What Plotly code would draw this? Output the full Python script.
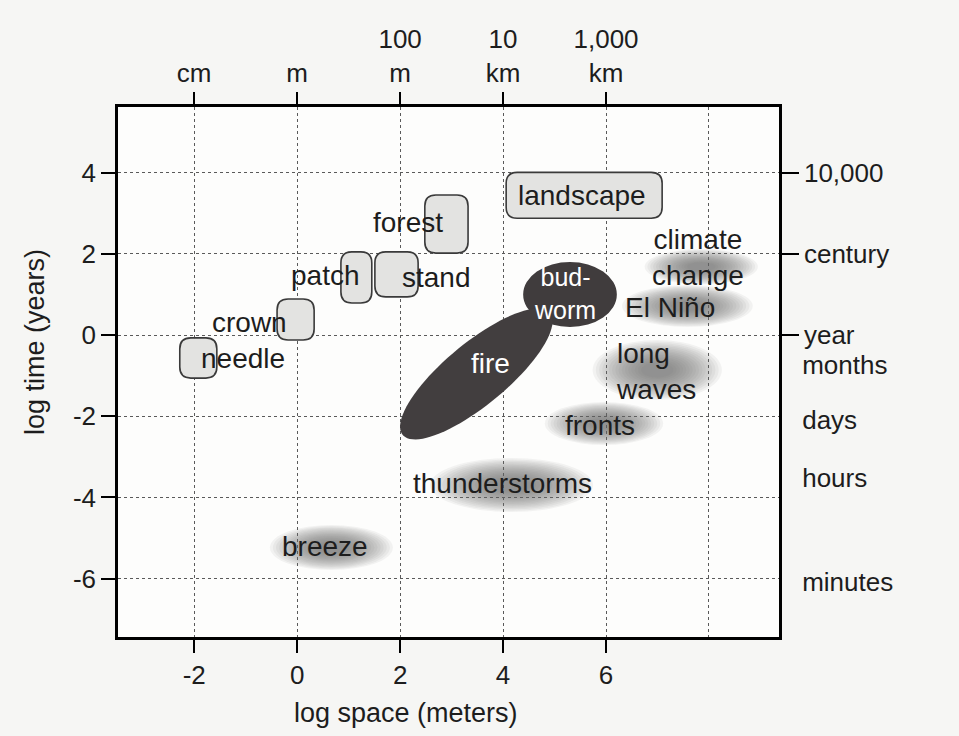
import numpy as np
import plotly.graph_objects as go

# ---------------- data ----------------
X_RANGE = [-3.48, 9.36]
Y_RANGE = [-7.44, 5.62]

x_tick_vals = [-2, 0, 2, 4, 6]
x_tick_labels = ["-2", "0", "2", "4", "6"]
x_extra_grid = [8]
y_tick_vals = [-6, -4, -2, 0, 2, 4]
y_tick_labels = ["-6", "-4", "-2", "0", "2", "4"]
top_tick_labels = ["cm", "m", "100<br>m", "10<br>km", "1,000<br>km"]
right_tick_vals = [4, 2, 0]
right_tick_labels = ["10,000", "century", "year"]
right_text_vals = [-0.74, -2.09, -3.52, -6.08]
right_text_labels = ["months", "days", "hours", "minutes"]

# biological levels (rounded boxes)
box_labels = ["landscape", "forest", "stand", "patch", "crown", "needle"]
box_x0 = [4.06, 2.48, 1.51, 0.85, -0.39, -2.28]
box_x1 = [7.09, 3.32, 2.35, 1.45, 0.33, -1.56]
box_y0 = [2.88, 2.02, 0.94, 0.79, -0.12, -1.06]
box_y1 = [4.01, 3.45, 2.05, 2.05, 0.89, -0.07]
box_text_x = [5.53, 2.15, 2.71, 0.56, -0.92, -1.05]
box_text_y = [3.45, 2.78, 1.43, 1.48, 0.32, -0.57]

# atmospheric phenomena (soft grey ellipses)
atm_labels = ["climate<br>change", "El Niño", "long<br>waves", "fronts", "thunderstorms", "breeze"]
atm_x0 = [6.75, 6.31, 5.74, 4.81, 2.58, -0.53]
atm_x1 = [8.95, 8.85, 8.25, 7.11, 5.75, 1.86]
atm_y0 = [1.25, 0.20, -1.60, -2.71, -4.36, -5.79]
atm_y1 = [2.12, 1.23, -0.12, -1.65, -3.03, -4.68]
atm_text_x = [7.78, 7.24, 6.15, 5.88, 3.98, 0.54]
atm_text_y = [1.92, 0.67, -0.89, -2.22, -3.65, -5.22]
atm_text_anchor = ["center", "center", "left", "center", "center", "center"]

# disturbances (dark ellipses)
budworm_x = [4.39, 6.21]
budworm_y = [0.20, 1.80]
budworm_text = (5.20, 1.03)
fire_x = [2.05, 4.91]      # ends of long axis
fire_y = [-2.46, 0.54]
fire_text = (3.76, -0.69)

# ---------------- layout constants ----------------
W, H = 959, 736
ML, MR, MT, MB = 118, 180, 107, 99
PW, PH = W - ML - MR, H - MT - MB
SX = PW / (X_RANGE[1] - X_RANGE[0])   # px per x unit
SY = PH / (Y_RANGE[1] - Y_RANGE[0])   # px per y unit

FONT = "Liberation Sans, Arial, Helvetica, sans-serif"
TXT = "#1d1d1d"
GRID = "#5a5a5a"
LABEL_SIZE = 28
TICK_SIZE = 26

shapes = []
annotations = []

# soft grey ellipses (layered to mimic an airbrushed gradient)
N_LAYERS = 16
for i in range(len(atm_labels)):
    cx = (atm_x0[i] + atm_x1[i]) / 2
    cy = (atm_y0[i] + atm_y1[i]) / 2
    rx = (atm_x1[i] - atm_x0[i]) / 2
    ry = (atm_y1[i] - atm_y0[i]) / 2
    for k in range(N_LAYERS):
        s = 1.0 - k * 0.05
        shapes.append(dict(type="circle", xref="x", yref="y", layer="between",
                           x0=cx - rx * s, x1=cx + rx * s, y0=cy - ry * s, y1=cy + ry * s,
                           fillcolor="rgba(110,110,110,0.075)", line=dict(width=0)))
    annotations.append(dict(x=atm_text_x[i], y=atm_text_y[i], xref="x", yref="y",
                            text=atm_labels[i], showarrow=False,
                            xanchor=atm_text_anchor[i], align=atm_text_anchor[i],
                            font=dict(family=FONT, size=LABEL_SIZE, color=TXT)))

# rounded boxes
R = 11
for i in range(len(box_labels)):
    x0, x1, y0, y1 = box_x0[i], box_x1[i], box_y0[i], box_y1[i]
    rx, ry = R / SX, R / SY
    path = (f"M {x0+rx},{y0} L {x1-rx},{y0} Q {x1},{y0} {x1},{y0+ry} "
            f"L {x1},{y1-ry} Q {x1},{y1} {x1-rx},{y1} L {x0+rx},{y1} "
            f"Q {x0},{y1} {x0},{y1-ry} L {x0},{y0+ry} Q {x0},{y0} {x0+rx},{y0} Z")
    shapes.append(dict(type="path", xref="x", yref="y", layer="between", path=path,
                       fillcolor="#e3e3e1", line=dict(color="#3a3a3a", width=1.6)))
    annotations.append(dict(x=box_text_x[i], y=box_text_y[i], xref="x", yref="y",
                            text=box_labels[i], showarrow=False,
                            font=dict(family=FONT, size=LABEL_SIZE, color=TXT)))

# budworm
shapes.append(dict(type="circle", xref="x", yref="y", layer="between",
                   x0=budworm_x[0], x1=budworm_x[1], y0=budworm_y[0], y1=budworm_y[1],
                   fillcolor="#403c3d", line=dict(width=0)))
annotations.append(dict(x=budworm_text[0], y=budworm_text[1], xref="x", yref="y",
                        text="bud-<br>worm", showarrow=False,
                        font=dict(family=FONT, size=25, color="white")))

# fire (rotated ellipse built in pixel space, mapped back to data)
FIRE_HALF_WIDTH_PX = 31
px0, py0 = fire_x[0] * SX, fire_y[0] * SY
px1, py1 = fire_x[1] * SX, fire_y[1] * SY
cxp, cyp = (px0 + px1) / 2, (py0 + py1) / 2
a = np.hypot(px1 - px0, py1 - py0) / 2
ang = np.arctan2(py1 - py0, px1 - px0)
t = np.linspace(0, 2 * np.pi, 90)
ex = cxp + a * np.cos(t) * np.cos(ang) - FIRE_HALF_WIDTH_PX * np.sin(t) * np.sin(ang)
ey = cyp + a * np.cos(t) * np.sin(ang) + FIRE_HALF_WIDTH_PX * np.sin(t) * np.cos(ang)
pts = [f"{x / SX:.4f},{y / SY:.4f}" for x, y in zip(ex, ey)]
shapes.append(dict(type="path", xref="x", yref="y", layer="between",
                   path="M " + " L ".join(pts) + " Z",
                   fillcolor="#423e3f", line=dict(width=0)))
annotations.append(dict(x=fire_text[0], y=fire_text[1], xref="x", yref="y",
                        text="fire", showarrow=False,
                        font=dict(family=FONT, size=LABEL_SIZE, color="white")))

# axis titles
annotations.append(dict(x=(35 - ML) / PW, y=(MT + PH - 342) / PH, xref="paper", yref="paper",
                        xanchor="center", yanchor="middle",
                        text="log time (years)", textangle=-90, showarrow=False,
                        font=dict(family=FONT, size=27, color=TXT)))
annotations.append(dict(x=(406 - ML) / PW, y=(MT + PH - 713) / PH, xref="paper", yref="paper",
                        xanchor="center", yanchor="middle",
                        text="log space (meters)", showarrow=False,
                        font=dict(family=FONT, size=27, color=TXT)))

fig = go.Figure()
# dummy traces so every axis is drawn
for xa, ya in [("x", "y"), ("x2", "y"), ("x", "y2"), ("x", "y3")]:
    fig.add_trace(go.Scatter(x=[None], y=[None], xaxis=xa, yaxis=ya,
                             showlegend=False, hoverinfo="skip"))

axis_common = dict(showline=True, linecolor="black", linewidth=2.5, zeroline=False,
                   ticks="outside", tickcolor="black", tickwidth=2.2,
                   tickfont=dict(family=FONT, size=TICK_SIZE, color=TXT))

fig.update_layout(
    width=W, height=H,
    margin=dict(l=ML, r=MR, t=MT, b=MB),
    paper_bgcolor="#f6f6f4", plot_bgcolor="#fdfdfc",
    showlegend=False,
    shapes=shapes, annotations=annotations,
    xaxis=dict(range=X_RANGE, tickvals=x_tick_vals, ticktext=x_tick_labels, ticklen=13,
               showgrid=True, gridcolor=GRID, gridwidth=1, griddash="dot",
               minor=dict(tickvals=x_extra_grid, showgrid=True, gridcolor=GRID,
                          gridwidth=1, griddash="dot", ticks=""),
               **axis_common),
    xaxis2=dict(range=X_RANGE, overlaying="x", side="top", anchor="y",
                tickvals=x_tick_vals, ticktext=top_tick_labels, ticklen=12,
                showgrid=False, **axis_common),
    yaxis=dict(range=Y_RANGE, tickvals=y_tick_vals, ticktext=y_tick_labels, ticklen=14,
               showgrid=True, gridcolor=GRID, gridwidth=1, griddash="dot",
               **axis_common),
    yaxis2=dict(range=Y_RANGE, overlaying="y", side="right", anchor="x",
                tickvals=right_tick_vals, ticktext=right_tick_labels, ticklen=17,
                showgrid=False, **axis_common),
    yaxis3=dict(range=Y_RANGE, overlaying="y", side="right", anchor="x",
                tickvals=right_text_vals, ticktext=right_text_labels, ticklen=17,
                showgrid=False, showline=False, zeroline=False, ticks="outside",
                tickcolor="rgba(0,0,0,0)",
                tickfont=dict(family=FONT, size=TICK_SIZE, color=TXT)),
)

fig.write_html("out.html", config={"displayModeBar": False},
               post_script="document.body.style.margin='0';")
